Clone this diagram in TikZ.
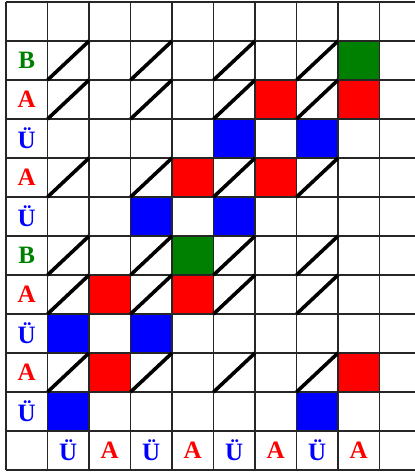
\documentclass[tikz,border=0pt]{standalone}
\usepackage{fontspec}
\setmainfont{Liberation Serif}
\usepackage{tikz}

\definecolor{dgreen}{RGB}{0,128,0}
\tikzset{
  letter/.style={font=\fontsize{25}{25}\selectfont\bfseries},
  gridline/.style={line width=1.7pt, draw=black!85},
  match/.style={line width=3.6pt, black}
}

\begin{document}
\begin{tikzpicture}[x=41.5pt, y=39pt]
\clip (-0.145,0.052) rectangle (9.855,-12.128);
\fill[white] (-0.145,0.052) rectangle (9.855,-12.128);
% coloured cells
\foreach \c/\r in {6/2, 8/2, 4/4, 6/4, 2/7, 4/7, 2/9, 8/9}
  \fill[red] (\c,-\r) rectangle ++(1,-1);
\foreach \c/\r in {5/3, 7/3, 3/5, 5/5, 1/8, 3/8, 1/10, 7/10}
  \fill[blue] (\c,-\r) rectangle ++(1,-1);
\foreach \c/\r in {8/1, 4/6}
  \fill[dgreen] (\c,-\r) rectangle ++(1,-1);
% grid
\foreach \c in {0,...,9}
  \draw[gridline] (\c,0) -- (\c,-12);
\foreach \r in {0,...,12}
  \draw[gridline] (0,-\r) -- (10,-\r);
% diagonals
\foreach \r in {1,2,4,6,7,9}
  \foreach \c in {1,3,5,7}
    \draw[match] (\c,-\r-1) -- (\c+1,-\r);
% row letters
\foreach \r/\t/\col in {1/B/dgreen, 2/A/red, 3/Ü/blue, 4/A/red, 5/Ü/blue,
                         6/B/dgreen, 7/A/red, 8/Ü/blue, 9/A/red, 10/Ü/blue}
  \node[letter, text=\col] (row\r) at (0.5,-\r-0.5) {\t};
% column letters
\foreach \c/\t/\col in {1/Ü/blue, 2/A/red, 3/Ü/blue, 4/A/red,
                         5/Ü/blue, 6/A/red, 7/Ü/blue, 8/A/red}
  \node[letter, text=\col] (col\c) at (\c+0.5,-11.5) {\t};
\end{tikzpicture}
\end{document}
